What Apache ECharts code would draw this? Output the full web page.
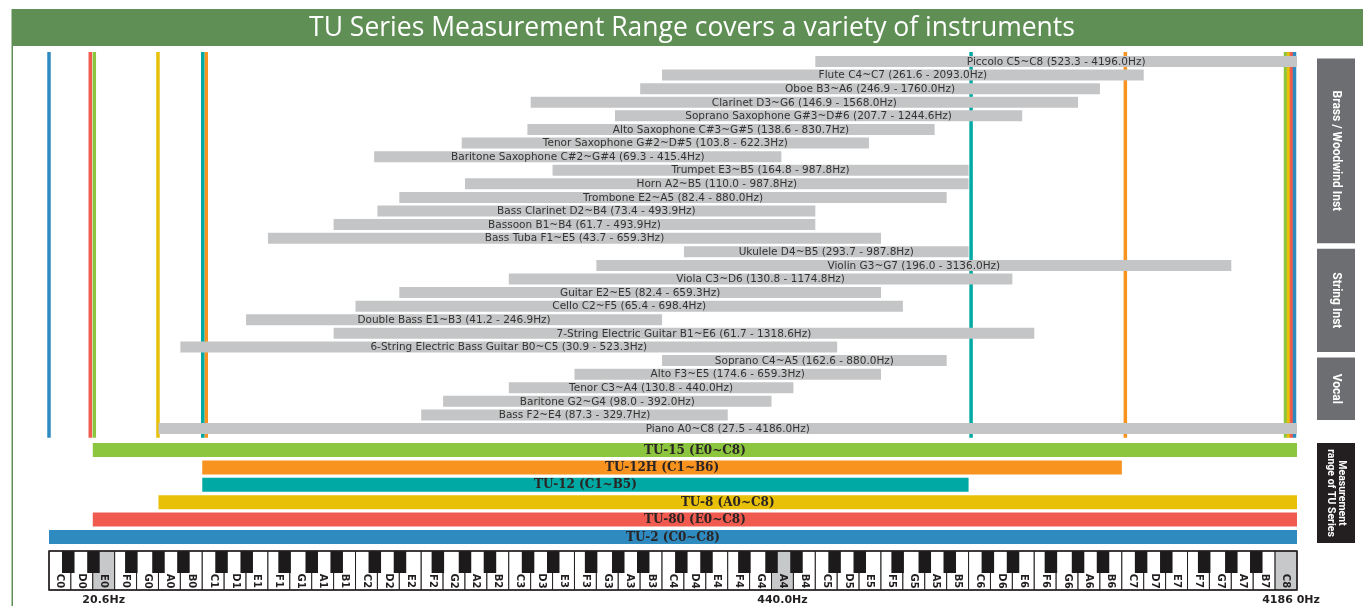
<!DOCTYPE html>
<html>
<head>
<meta charset="utf-8">
<title>TU Series Measurement Range</title>
<script src="https://cdn.jsdelivr.net/npm/echarts@6/dist/echarts.min.js"></script>
<style>
  html, body { margin: 0; padding: 0; background: #fff; }
  #chart { width: 1363px; height: 606px; }
</style>
</head>
<body>
<div id="chart"></div>
<script>
// instrument ranges (top to bottom)
const instruments = ['Piccolo', 'Flute', 'Oboe', 'Clarinet', 'Soprano Saxophone', 'Alto Saxophone',
  'Tenor Saxophone', 'Baritone Saxophone', 'Trumpet', 'Horn', 'Trombone', 'Bass Clarinet', 'Bassoon',
  'Bass Tuba', 'Ukulele', 'Violin', 'Viola', 'Guitar', 'Cello', 'Double Bass', '7-String Electric Guitar',
  '6-String Electric Bass Guitar', 'Soprano', 'Alto', 'Tenor', 'Baritone', 'Bass', 'Piano'];
const lowNotes = ['C5', 'C4', 'B3', 'D3', 'G#3', 'C#3', 'G#2', 'C#2', 'E3', 'A2', 'E2', 'D2', 'B1', 'F1',
  'D4', 'G3', 'C3', 'E2', 'C2', 'E1', 'B1', 'B0', 'C4', 'F3', 'C3', 'G2', 'F2', 'A0'];
const highNotes = ['C8', 'C7', 'A6', 'G6', 'D#6', 'G#5', 'D#5', 'G#4', 'B5', 'B5', 'A5', 'B4', 'B4', 'E5',
  'B5', 'G7', 'D6', 'E5', 'F5', 'B3', 'E6', 'C5', 'A5', 'E5', 'A4', 'G4', 'E4', 'C8'];
const lowHz = [523.3, 261.6, 246.9, 146.9, 207.7, 138.6, 103.8, 69.3, 164.8, 110.0, 82.4, 73.4, 61.7, 43.7,
  293.7, 196.0, 130.8, 82.4, 65.4, 41.2, 61.7, 30.9, 162.6, 174.6, 130.8, 98.0, 87.3, 27.5];
const highHz = [4196.0, 2093.0, 1760.0, 1568.0, 1244.6, 830.7, 622.3, 415.4, 987.8, 987.8, 880.0, 493.9,
  493.9, 659.3, 987.8, 3136.0, 1174.8, 659.3, 698.4, 246.9, 1318.6, 523.3, 880.0, 659.3, 440.0, 392.0,
  329.7, 4186.0];

// side groups
const groupNames = ['Brass / Woodwind Inst', 'String Inst', 'Vocal'];
const groupFirst = ['Piccolo', 'Ukulele', 'Soprano'];
const groupLast = ['Bass Tuba', '6-String Electric Bass Guitar', 'Bass'];

// tuner models
const tuModels = ['TU-15', 'TU-12H', 'TU-12', 'TU-8', 'TU-80', 'TU-2'];
const tuLow = ['E0', 'C1', 'C1', 'A0', 'E0', 'C0'];
const tuHigh = ['C8', 'B6', 'B5', 'C8', 'C8', 'C8'];

// keyboard frequency marks
const markedNotes = ['E0', 'A4', 'C8'];
const markedHz = ['20.6Hz', '440.0Hz', '4186 0Hz'];

// styles
const tuColors = ['#8cc63f', '#f7931e', '#00a9a3', '#e8c007', '#f05a4f', '#2e8abf'];
const lineShiftLow = [1.5, 4, 0.5, -0.5, -2.5, 0];
const lineShiftHigh = [-11.5, 3.5, 2.5, -8.5, -5.5, -2.5];
const barFont = '10.5px "DejaVu Sans", sans-serif';
const sideFont = '"Liberation Sans Narrow", Roboto, sans-serif';

// piano key scale: x axis counts white keys from C0
const WHITE = ['C', 'D', 'E', 'F', 'G', 'A', 'B'];
const keyIndex = n => Number(n[n.length - 1]) * 7 + WHITE.indexOf(n[0]);
const lowPos = n => n[1] === '#' ? keyIndex(n) + 0.85 : keyIndex(n);
const highPos = n => n[1] === '#' ? keyIndex(n) + 1.45 : keyIndex(n) + 1;

const whiteKeys = [];
for (let o = 0; o < 8; o++) WHITE.forEach(l => whiteKeys.push(l + o));
whiteKeys.push('C8');
const blackShift = { C: -0.12, D: 0.03, F: -0.24, G: 0, A: 0.14 };
const blackKeys = [];
whiteKeys.forEach((k, i) => {
  if (k[0] in blackShift && i < whiteKeys.length - 1) blackKeys.push([i + 1 + blackShift[k[0]]]);
});

const barLabels = instruments.map((name, i) =>
  name + ' ' + lowNotes[i] + '~' + highNotes[i] + ' (' + lowHz[i].toFixed(1) + ' - ' + highHz[i].toFixed(1) + 'Hz)');
const tuLabels = tuModels.map((m, i) => m + ' (' + tuLow[i] + '~' + tuHigh[i] + ')');

function txt(text, x, y, font, fill, align, rot) {
  return {
    type: 'text', x: x, y: y, rotation: rot || 0,
    style: { text: text, x: 0, y: 0, font: font, fill: fill,
      align: align || 'center', textAlign: align || 'center',
      verticalAlign: 'middle', textVerticalAlign: 'middle' }
  };
}

function sideBox(names, padTop, padBottom, fill, font, lineHeight) {
  return function (params, api) {
    const cs = params.coordSys;
    const top = api.coord([0, api.value(1)])[1] - padTop;
    const bot = api.coord([0, api.value(2)])[1] + padBottom;
    const x = cs.x + cs.width + 20;
    const t = txt(names[params.dataIndex], x + 19, (top + bot) / 2, font, '#fff', 'center', -Math.PI / 2);
    t.style.lineHeight = lineHeight;
    return {
      type: 'group',
      children: [
        { type: 'rect', shape: { x: x, y: top, width: 38, height: bot - top }, style: { fill: fill } },
        t
      ]
    };
  };
}

const chart = echarts.init(document.getElementById('chart'));
const option = {
  animation: false,
  backgroundColor: '#fff',
  grid: [
    { left: 49, right: 66, top: 54.7, height: 380.6 },
    { left: 49, right: 66, top: 441.3, height: 104.4 },
    { left: 49, right: 66, top: 551, height: 39 }
  ],
  xAxis: [0, 1, 2].map(g => ({ gridIndex: g, type: 'value', min: 0, max: whiteKeys.length, show: false })),
  yAxis: [
    { gridIndex: 0, type: 'category', data: instruments, inverse: true, show: false },
    { gridIndex: 1, type: 'category', data: tuModels, inverse: true, show: false },
    { gridIndex: 2, type: 'value', min: 0, max: 1, show: false }
  ],
  graphic: [
    { type: 'rect', shape: { x: 12, y: 9, width: 1351, height: 37 }, style: { fill: '#5f8f55' } },
    { type: 'rect', shape: { x: 11.5, y: 9, width: 1.5, height: 597 }, style: { fill: '#5f8f55' } },
    {
      type: 'text', x: 692, y: 28,
      style: { text: 'TU Series Measurement Range covers a variety of instruments', fill: '#fff',
        font: '26.5px "Open Sans", "Liberation Sans", sans-serif',
        align: 'center', textAlign: 'center', verticalAlign: 'middle', textVerticalAlign: 'middle' }
    }
  ],
  series: [
    // range lines of each tuner, behind the instrument bars
    {
      type: 'custom', xAxisIndex: 0, yAxisIndex: 0, clip: false, z: 1,
      encode: { x: 0, y: 1 },
      data: tuModels.flatMap((m, i) => [[lowPos(tuLow[i]), i, 0], [highPos(tuHigh[i]), i, 1]]),
      renderItem(params, api) {
        const cs = params.coordSys;
        const i = api.value(1);
        const shift = api.value(2) ? lineShiftHigh[i] : lineShiftLow[i];
        const x = api.coord([api.value(0), 0])[0] + shift;
        return { type: 'rect', shape: { x: x - 1.75, y: cs.y - 2.7, width: 3.5, height: cs.height + 5.1 },
          style: { fill: tuColors[i] } };
      }
    },
    // instrument ranges
    {
      type: 'custom', xAxisIndex: 0, yAxisIndex: 0, clip: false, z: 2,
      encode: { x: [0, 1], y: 2 },
      data: instruments.map((n, i) => [lowPos(lowNotes[i]), highPos(highNotes[i]), i]),
      renderItem(params, api) {
        const i = params.dataIndex;
        const p0 = api.coord([api.value(0), api.value(2)]);
        const p1 = api.coord([api.value(1), api.value(2)]);
        return {
          type: 'group',
          children: [
            { type: 'rect', shape: { x: p0[0], y: p0[1] - 5.5, width: p1[0] - p0[0], height: 11 },
              style: { fill: '#c4c5c6' } },
            txt(barLabels[i], (p0[0] + p1[0]) / 2, p0[1] + 0.5, barFont, '#333')
          ]
        };
      }
    },
    // instrument group boxes
    {
      type: 'custom', xAxisIndex: 0, yAxisIndex: 0, clip: false, z: 2,
      encode: { x: 0, y: [1, 2] },
      data: groupNames.map((g, k) => [0, instruments.indexOf(groupFirst[k]), instruments.indexOf(groupLast[k])]),
      renderItem: sideBox(groupNames, 3, 5, '#6d6e71', 'bold 12px ' + sideFont, 12)
    },
    // tuner ranges
    {
      type: 'custom', xAxisIndex: 1, yAxisIndex: 1, clip: false, z: 2,
      encode: { x: [0, 1], y: 2 },
      data: tuModels.map((m, i) => [lowPos(tuLow[i]), highPos(tuHigh[i]), i]),
      renderItem(params, api) {
        const i = params.dataIndex;
        const p0 = api.coord([api.value(0), api.value(2)]);
        const p1 = api.coord([api.value(1), api.value(2)]);
        return {
          type: 'group',
          children: [
            { type: 'rect', shape: { x: p0[0], y: p0[1] - 7, width: p1[0] - p0[0], height: 14 },
              style: { fill: tuColors[i] } },
            txt(tuLabels[i], (p0[0] + p1[0]) / 2, p0[1] + 0.5, 'bold 12px "DejaVu Serif", serif', '#2a2424')
          ]
        };
      }
    },
    {
      type: 'custom', xAxisIndex: 1, yAxisIndex: 1, clip: false, z: 2,
      encode: { x: 0, y: [1, 2] },
      data: [[0, 0, tuModels.length - 1]],
      renderItem: sideBox(['Measurement\nrange of TU Series'], 7, 6, '#231f20', 'bold 10.5px ' + sideFont, 11)
    },
    // white keys
    {
      type: 'custom', xAxisIndex: 2, yAxisIndex: 2, clip: false, z: 2,
      encode: { x: [0, 1] },
      data: whiteKeys.map((k, i) => [i, i + 1]),
      renderItem(params, api) {
        const k = whiteKeys[params.dataIndex];
        const p0 = api.coord([api.value(0), 1]);
        const p1 = api.coord([api.value(1), 0]);
        return {
          type: 'group',
          children: [
            { type: 'rect', shape: { x: p0[0], y: p0[1], width: p1[0] - p0[0], height: p1[1] - p0[1] },
              style: { fill: markedNotes.includes(k) ? '#c7c8ca' : '#fff', stroke: '#231f20', lineWidth: 1 } },
            txt(k, (p0[0] + p1[0]) / 2, p1[1] - 9, 'bold 10px "DejaVu Sans", sans-serif', '#231f20', 'center',
              -Math.PI / 2)
          ]
        };
      }
    },
    // black keys
    {
      type: 'custom', xAxisIndex: 2, yAxisIndex: 2, clip: false, z: 3,
      encode: { x: 0 },
      data: blackKeys,
      renderItem(params, api) {
        const cs = params.coordSys;
        const p = api.coord([api.value(0), 1]);
        return { type: 'rect', shape: { x: p[0] - 6.25, y: cs.y, width: 12.5, height: 22 },
          style: { fill: '#1c1a1a' } };
      }
    },
    // keyboard outline + frequency marks
    {
      type: 'custom', xAxisIndex: 2, yAxisIndex: 2, clip: false, z: 4,
      encode: { x: 0 },
      data: markedNotes.map(n => [keyIndex(n) + 0.5]),
      renderItem(params, api) {
        const cs = params.coordSys;
        const p = api.coord([api.value(0), 0]);
        const children = [txt(markedHz[params.dataIndex], p[0] + (params.dataIndex === 2 ? 5 : 0),
          cs.y + cs.height + 10.5, 'bold 11px "DejaVu Sans", sans-serif', '#231f20')];
        if (params.dataIndex === 0) {
          children.push({ type: 'rect', shape: { x: cs.x, y: cs.y, width: cs.width, height: cs.height },
            style: { fill: 'none', stroke: '#231f20', lineWidth: 1.5 } });
        }
        return { type: 'group', children: children };
      }
    }
  ]
};
chart.setOption(option);
window.addEventListener('resize', function () {
  chart.resize();
});
</script>
</body>
</html>
